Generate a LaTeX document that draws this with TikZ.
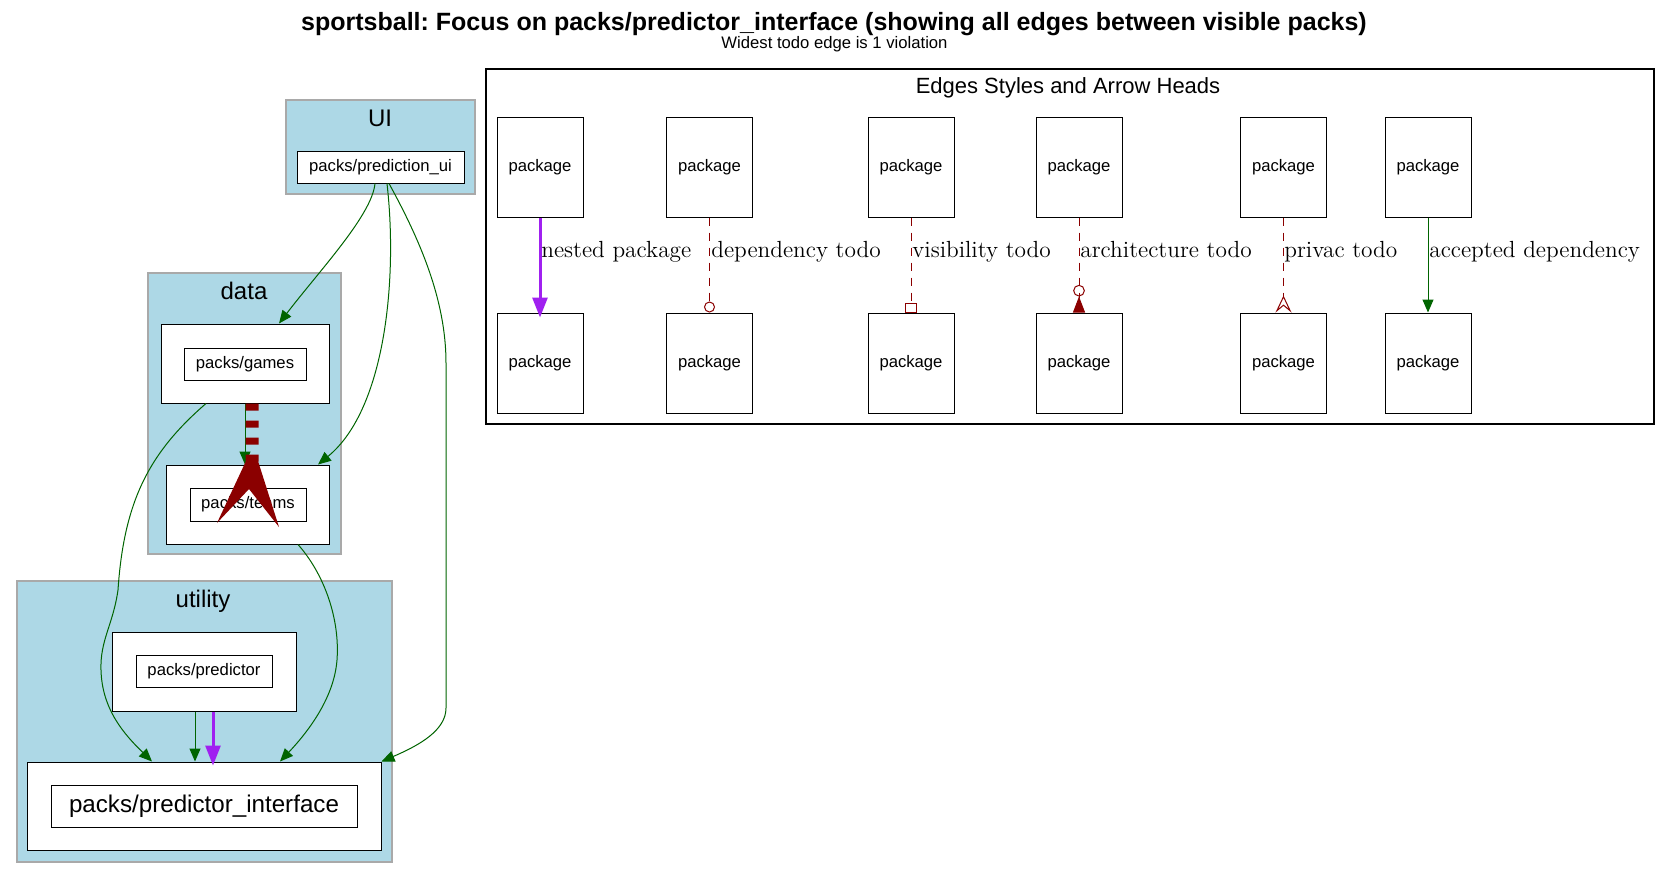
\documentclass[tikz,border=0pt]{standalone}
\usepackage{fontspec}
\newfontfamily\arialf{Liberation Sans}
\usetikzlibrary{arrows.meta}
\definecolor{lblue}{HTML}{ADD8E6}
\definecolor{clgray}{HTML}{A9A9A9}
\definecolor{dgreen}{HTML}{006400}
\definecolor{dred}{HTML}{8B0000}
\definecolor{purp}{HTML}{A020F0}
\begin{document}
\frenchspacing
\begin{tikzpicture}[x=0.6pt,y=-0.6pt,
 cluster/.style={draw=clgray, fill=lblue, line width=0.9pt, inner sep=0pt, rectangle},
 outerbox/.style={draw=black, fill=white, line width=0.6pt, inner sep=0pt, rectangle},
 pkg/.style={draw=black, fill=white, line width=0.6pt, inner sep=0pt, rectangle, font=\arialf\fontsize{10}{12}\selectfont},
 lg/.style={pkg, minimum width=51.6pt, minimum height=60pt},
 dep/.style={draw=dgreen, line width=0.6pt, -{Triangle[length=7.8pt,width=6.6pt]}},
 nest/.style={draw=purp, line width=1.8pt, -{Triangle[length=12pt,width=9pt]}},
 todo/.style={draw=dred, line width=0.6pt, dash pattern=on 4.8pt off 4.2pt},
 elabel/.style={font=\fontsize{14}{16}\selectfont, inner sep=0pt, anchor=base west},
 cllabel/.style={font=\arialf\fontsize{14.4}{16}\selectfont, inner sep=0pt},
]
\fill[white] (0,0) rectangle (1669,878);
\useasboundingbox (0,0) rectangle (1669,878);

% title
\node[font=\arialf\bfseries\fontsize{15}{18}\selectfont, anchor=base, inner sep=0pt] (title) at (834,30) {sportsball: Focus on packs/predictor\_interface (showing all edges between visible packs)};
\node[font=\arialf\fontsize{10}{12}\selectfont, anchor=base, inner sep=0pt] (sub) at (834.5,48) {Widest todo edge is 1 violation};

% UI cluster
\node[cluster, minimum width=113.4pt, minimum height=56.4pt] (uicl) at (380.5,147) {};
\node[cllabel] (uilab) at (380,118) {UI};
\node[pkg, minimum width=100.2pt, minimum height=19.2pt] (pui) at (380.5,167) {packs/prediction\_ui};

% data cluster
\node[cluster, minimum width=115.8pt, minimum height=168.6pt] (datacl) at (244.5,413.5) {};
\node[cllabel] (datalab) at (244,291) {data};
\node[outerbox, minimum width=100.8pt, minimum height=47.4pt] (gamesO) at (245,363.5) {};
\node[pkg, minimum width=73.2pt, minimum height=19.2pt] (games) at (245,364) {packs/games};
\node[outerbox, minimum width=97.8pt, minimum height=47.4pt] (teamsO) at (247.5,504.5) {};
\node[pkg, minimum width=69.6pt, minimum height=19.8pt] (teams) at (248,504.5) {packs/teams};

% utility cluster
\node[cluster, minimum width=225pt, minimum height=168.6pt] (utilcl) at (204.5,721.5) {};
\node[cllabel] (utillab) at (203,601) {utility};
\node[outerbox, minimum width=110.4pt, minimum height=47.4pt] (predO) at (204,671.5) {};
\node[pkg, minimum width=81.6pt, minimum height=19.2pt] (pred) at (204,671) {packs/predictor};
\node[outerbox, minimum width=212.4pt, minimum height=52.8pt] (ifaceO) at (204,806) {};
\node[pkg, minimum width=183.6pt, minimum height=25.2pt, font=\arialf\fontsize{14.5}{17}\selectfont] (iface) at (204,806) {packs/predictor\_interface};

% edges of the graph
\draw[dep] ([xshift=-3.3pt]pui.south) .. controls (372,215) and (320,270) .. ([xshift=20.4pt]gamesO.north);
\draw[dep] ([xshift=3.9pt]pui.south) .. controls (398,280) and (385,410) .. ([xshift=42.3pt]teamsO.north);
\draw[dep] ([xshift=5.1pt]pui.south) .. controls (420,240) and (446,300) .. (446,363) -- (446,708) .. controls (446,730) and (420,745) .. (ifaceO.north east);
\draw[dep] ([xshift=-23.4pt]gamesO.south) .. controls (150,452) and (124,500) .. (118,590) .. controls (113,625) and (100,640) .. (101,670) .. controls (102,710) and (125,735) .. ([xshift=-31.2pt]ifaceO.north);
\draw[dep] ([xshift=30.3pt]teamsO.south) .. controls (325,575) and (340,620) .. (337,660) .. controls (334,700) and (305,735) .. ([xshift=45.6pt]ifaceO.north);
\draw[dep] (gamesO.south) -- (gamesO.south |- teamsO.north);
\draw[dred, line width=7.8pt, dash pattern=on 4.2pt off 6pt] ([xshift=4.2pt]gamesO.south) -- ([xshift=2.7pt]teamsO.north);
\fill[dred] (246,461) -- (217,523) -- (249,489) -- (279,527) -- (258,461) -- cycle;
\draw[dep] ([xshift=-5.4pt]predO.south) -- ([xshift=-5.4pt]ifaceO.north);
\draw[nest, shorten >=-2.4pt] ([xshift=5.4pt]predO.south) -- ([xshift=5.4pt]ifaceO.north);

% legend
\node[draw=black, line width=0.7pt, minimum width=700.8pt, minimum height=213pt, inner sep=0pt] (legend) at (1070,246.5) {};
\node[font=\arialf\fontsize{13.2}{15}\selectfont, anchor=base, inner sep=0pt] (legtitle) at (1068,93) {Edges Styles and Arrow Heads};
\foreach \i/\cx in {1/540,2/709.5,3/911,4/1079,5/1283.5,6/1428}{
  \node[lg] (t\i) at (\cx,167) {package};
  \node[lg] (b\i) at (\cx,363) {package};
}
\draw[nest, shorten >=-3pt] (t1) -- (b1);
\draw[todo, -{Circle[open, length=6.6pt, width=6.6pt]}] (t2) -- (b2);
\draw[todo, -{Square[open, length=6pt, width=6.9pt]}] (t3) -- (b3);
\draw[todo, -{Circle[open, length=7pt, width=7pt] Triangle[reversed, length=9.6pt, width=7.2pt]}] (t4) -- (b4);
\draw[todo, -{Stealth[open, reversed, length=10.2pt, width=9.6pt, inset=4pt]}] (t5) -- (b5);
\draw[dep] (t6) -- (b6);
\node[elabel] (l1) at (541,257) {nested package};
\node[elabel] (l2) at (711,257) {dependency todo};
\node[elabel] (l3) at (912,257) {visibility todo};
\node[elabel] (l4) at (1080,257) {architecture todo};
\node[elabel] (l5) at (1284,257) {privac todo};
\node[elabel] (l6) at (1429,257) {accepted dependency};
\end{tikzpicture}
\end{document}
